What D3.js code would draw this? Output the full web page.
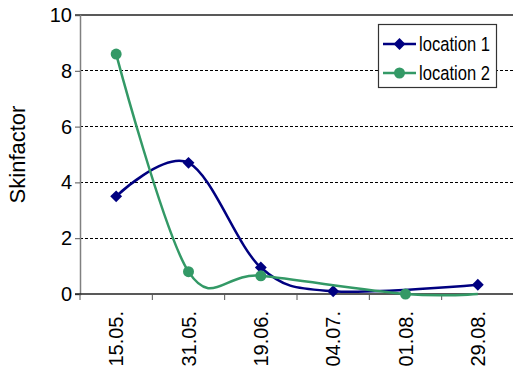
<!DOCTYPE html>
<html>
<head>
<meta charset="utf-8">
<script src="https://cdn.jsdelivr.net/npm/d3@7"></script>
<style>
  html, body { margin: 0; padding: 0; background: #fff; }
  svg { display: block; font-family: "Liberation Sans", Arial, sans-serif; }
</style>
</head>
<body>
<div id="chart"></div>
<script>
// Sampling dates and skin factor per location (null = not measured)
const dates = ["15.05.", "31.05.", "19.06.", "04.07.", "01.08.", "29.08."];
const location1 = [3.5, 4.7, 0.95, 0.1, null, 0.33];
const location2 = [8.6, 0.8, 0.65, null, 0, 0];
// dates where the line continues but no marker is drawn
const location1NoMarker = [];
const location2NoMarker = ["29.08."];
const yTicks = [0, 2, 4, 6, 8, 10];
const seriesNames = ["location 1", "location 2"];

const W = 513, H = 374;
const plot = { left: 80, right: 514, top: 15, bottom: 294 };

const svg = d3.select("#chart").append("svg")
  .attr("width", W).attr("height", H);

const x = d3.scaleBand().domain(dates).range([plot.left, plot.right]);
const y = d3.scaleLinear().domain([0, 10]).range([plot.bottom, plot.top]);
const cx = d => x(d) + x.bandwidth() / 2;

// dashed gridlines
svg.append("g").selectAll("line")
  .data(yTicks.filter(t => t > 0 && t < 10))
  .join("line")
  .attr("x1", plot.left).attr("x2", plot.right)
  .attr("y1", d => y(d)).attr("y2", d => y(d))
  .attr("stroke", "#000").attr("stroke-width", 1)
  .attr("stroke-dasharray", "3,2")
  .attr("shape-rendering", "crispEdges");

// top border line
svg.append("line")
  .attr("x1", plot.left - 5).attr("x2", plot.right)
  .attr("y1", y(10)).attr("y2", y(10))
  .attr("stroke", "#222").attr("stroke-width", 1.5);

// y axis
const yAxis = svg.append("g")
  .attr("transform", `translate(${plot.left},0)`)
  .call(d3.axisLeft(y).tickValues(yTicks).tickSize(5).tickPadding(3).tickFormat(d3.format("d")));
yAxis.select(".domain").attr("stroke", "#808080").attr("stroke-width", 1.5);
yAxis.selectAll(".tick line").attr("stroke", "#555");
yAxis.selectAll(".tick text")
  .attr("font-size", 20).attr("fill", "#000")
  .attr("font-family", "Liberation Sans, Arial, sans-serif");

// x axis
const xAxis = svg.append("g")
  .attr("transform", `translate(0,${plot.bottom})`)
  .call(d3.axisBottom(x).tickSize(0).tickFormat(""));
xAxis.select(".domain").remove();
svg.append("line")
  .attr("x1", plot.left - 5).attr("x2", plot.right)
  .attr("y1", plot.bottom).attr("y2", plot.bottom)
  .attr("stroke", "#222").attr("stroke-width", 1.5);
// tick marks on band boundaries
svg.append("g").selectAll("line")
  .data(dates)
  .join("line")
  .attr("x1", d => x(d)).attr("x2", d => x(d))
  .attr("y1", plot.bottom).attr("y2", plot.bottom + 6)
  .attr("stroke", "#555").attr("stroke-width", 1);

// rotated date labels
svg.append("g").selectAll("text")
  .data(dates)
  .join("text")
  .attr("transform", d => `translate(${cx(d) + 7},${plot.bottom + 17}) rotate(-90)`)
  .attr("text-anchor", "end")
  .attr("font-size", 20)
  .attr("fill", "#000")
  .text(d => d);

// axis title
svg.append("text")
  .attr("transform", `translate(25,${(plot.top + plot.bottom) / 2}) rotate(-90)`)
  .attr("text-anchor", "middle")
  .attr("font-size", 22)
  .attr("fill", "#000")
  .text("Skinfactor");

// series lines
const line = d3.line()
  .x(d => cx(d.date))
  .y(d => y(d.value))
  .curve(d3.curveCardinal.tension(0));

const series = [
  { name: seriesNames[0], values: location1, noMarker: location1NoMarker, color: "#000080", marker: "diamond" },
  { name: seriesNames[1], values: location2, noMarker: location2NoMarker, color: "#339966", marker: "circle" }
];

const diamond = d3.symbol().type(d3.symbolDiamond2).size(90);
const circle = d3.symbol().type(d3.symbolCircle).size(95);

series.forEach(s => {
  const pts = dates.map((d, i) => ({ date: d, value: s.values[i] }))
    .filter(p => p.value != null);
  svg.append("path")
    .datum(pts)
    .attr("d", line)
    .attr("fill", "none")
    .attr("stroke", s.color)
    .attr("stroke-width", 2.5);
  svg.append("g").selectAll("path")
    .data(pts.filter(p => !s.noMarker.includes(p.date)))
    .join("path")
    .attr("transform", p => `translate(${cx(p.date)},${y(p.value)})`)
    .attr("d", s.marker === "diamond" ? diamond : circle)
    .attr("fill", s.color);
});

// legend
const legend = svg.append("g");
legend.append("rect")
  .attr("x", 378.5).attr("y", 24.5).attr("width", 118).attr("height", 63)
  .attr("fill", "#fff").attr("stroke", "#333").attr("stroke-width", 1.2);
series.forEach((s, i) => {
  const ly = 44 + i * 29;
  legend.append("line")
    .attr("x1", 383).attr("x2", 416).attr("y1", ly).attr("y2", ly)
    .attr("stroke", s.color).attr("stroke-width", 2.5);
  legend.append("path")
    .attr("transform", `translate(399.5,${ly})`)
    .attr("d", s.marker === "diamond" ? diamond : circle)
    .attr("fill", s.color);
  legend.append("text")
    .attr("x", 419).attr("y", ly + 7)
    .attr("font-size", 20.5)
    .attr("textLength", 71).attr("lengthAdjust", "spacingAndGlyphs")
    .attr("fill", "#000")
    .text(s.name);
});
</script>
</body>
</html>
